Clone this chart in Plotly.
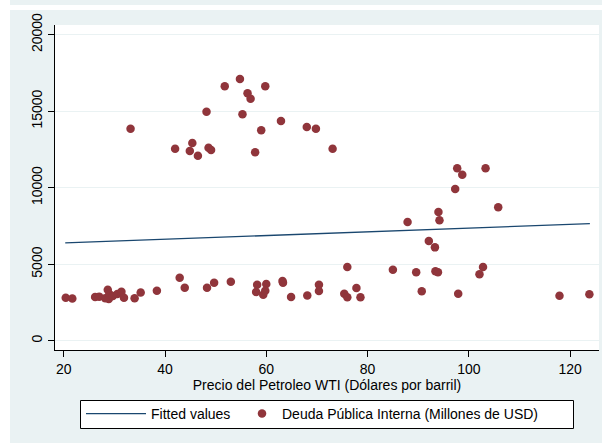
import plotly.graph_objects as go

# Scatter data: WTI oil price (USD/barrel) vs internal public debt (million USD)
wti = [20.4, 21.7, 26.2, 27.0, 28.2, 28.7, 28.9, 29.0, 29.7, 30.6, 31.4, 31.9, 34.0, 35.2, 38.4,
       42.9, 43.9, 48.3, 49.7, 53.0, 58.2, 58.0, 59.4, 60.0, 59.8, 63.2, 63.3, 64.9, 68.1,
       70.4, 70.4, 75.4, 76.0, 76.0, 77.8, 78.6, 85.0, 89.6, 90.7, 93.4, 93.9, 97.9, 102.1,
       102.8, 117.9, 123.8,
       87.9, 92.1, 93.3, 94.0, 94.2, 97.3, 97.7, 98.7, 103.3, 105.8,
       33.2, 42.0, 45.4, 44.9, 46.5, 48.2, 48.6, 49.1, 51.8, 54.8, 55.3, 56.3, 56.9, 57.8,
       59.0, 59.8, 62.9, 68.0, 69.8, 73.1]
deuda = [2800, 2760, 2860, 2880, 2780, 3330, 2720, 3050, 2920, 3050, 3200, 2810, 2780, 3150, 3260,
         4120, 3460, 3460, 3790, 3860, 3650, 3190, 3000, 3700, 3270, 3900, 3790, 2860, 2960,
         3650, 3250, 3070, 2840, 4820, 3440, 2840, 4640, 4470, 3230, 4540, 4470, 3070, 4340,
         4820, 2940, 3030,
         7760, 6520, 6100, 8410, 7870, 9920, 11270, 10850, 11270, 8720,
         13860, 12550, 12920, 12400, 12090, 14970, 12610, 12460, 16630, 17100, 14800, 16170,
         15820, 12310, 13750, 16630, 14360, 13970, 13860, 12550]

# Fitted values line (endpoints)
fit_x = [20.3, 123.9]
fit_y = [6390, 7650]

x_ticks = [20, 40, 60, 80, 100, 120]
y_ticks = [0, 5000, 10000, 15000, 20000]

W, H = 602, 443
L, R, T, B = 55, 3, 25, 93
pw, ph = W - L - R, H - T - B

def px(xp):
    return (xp - L) / pw

def py(yp):
    return (H - B - yp) / ph

BG = "#eaf2f3"
FONT = "Liberation Sans, Arial, sans-serif"

fig = go.Figure()
fig.add_trace(go.Scatter(x=fit_x, y=fit_y, mode="lines", name="Fitted values",
                         line=dict(color="#1a476f", width=1.3), legend="legend"))
fig.add_trace(go.Scatter(x=wti, y=deuda, mode="markers",
                         name="Deuda Pública Interna (Millones de USD)",
                         marker=dict(color="#90353b", size=8.5, line=dict(width=0)),
                         legend="legend2"))

shapes = [
    # white left strip and top band outside the light background
    dict(type="rect", xref="paper", yref="paper", x0=px(-5), x1=px(10), y0=py(-5), y1=py(H + 5),
         fillcolor="white", line=dict(width=0), layer="above"),
    dict(type="rect", xref="paper", yref="paper", x0=px(-5), x1=px(W + 5), y0=py(5), y1=py(10),
         fillcolor="white", line=dict(width=0), layer="above"),
    # legend box
    dict(type="rect", xref="paper", yref="paper", x0=px(80.5), x1=px(573.5), y0=py(400.5), y1=py(428.5),
         fillcolor="white", line=dict(width=1, color="black"), layer="above"),
]

leg_common = dict(orientation="h", yanchor="middle", y=py(414), bgcolor="rgba(0,0,0,0)",
                  borderwidth=0, font=dict(family=FONT, size=14, color="black"))

fig.update_layout(
    width=W, height=H,
    margin=dict(l=L, r=R, t=T, b=B, autoexpand=False),
    paper_bgcolor=BG, plot_bgcolor="white",
    font=dict(family=FONT, size=14, color="black"),
    shapes=shapes,
    showlegend=True,
    legend=dict(x=px(81), xanchor="left", itemwidth=60, **leg_common),
    legend2=dict(x=px(242), xanchor="left", itemwidth=30, **leg_common),
    xaxis=dict(range=[18.28, 125.7], tickvals=x_ticks, ticktext=[str(v) for v in x_ticks],
               ticks="outside", ticklen=6,
               tickcolor="black", showline=True, linecolor="black", linewidth=1,
               showgrid=False, zeroline=False,
               tickfont=dict(family=FONT, size=14, color="black"),
               title=dict(text="Precio del Petroleo WTI (Dólares por barril)", standoff=3,
                          font=dict(family=FONT, size=14, color="black"))),
    yaxis=dict(range=[-608, 20634], tickvals=y_ticks, ticktext=[str(v) for v in y_ticks],
               ticks="outside", ticklen=6,
               tickcolor="black", showline=True, linecolor="black", linewidth=1,
               showgrid=True, gridcolor=BG, gridwidth=1, zeroline=False,
               tickangle=-90,
               tickfont=dict(family=FONT, size=14, color="black")),
)

fig.write_html("out.html")
